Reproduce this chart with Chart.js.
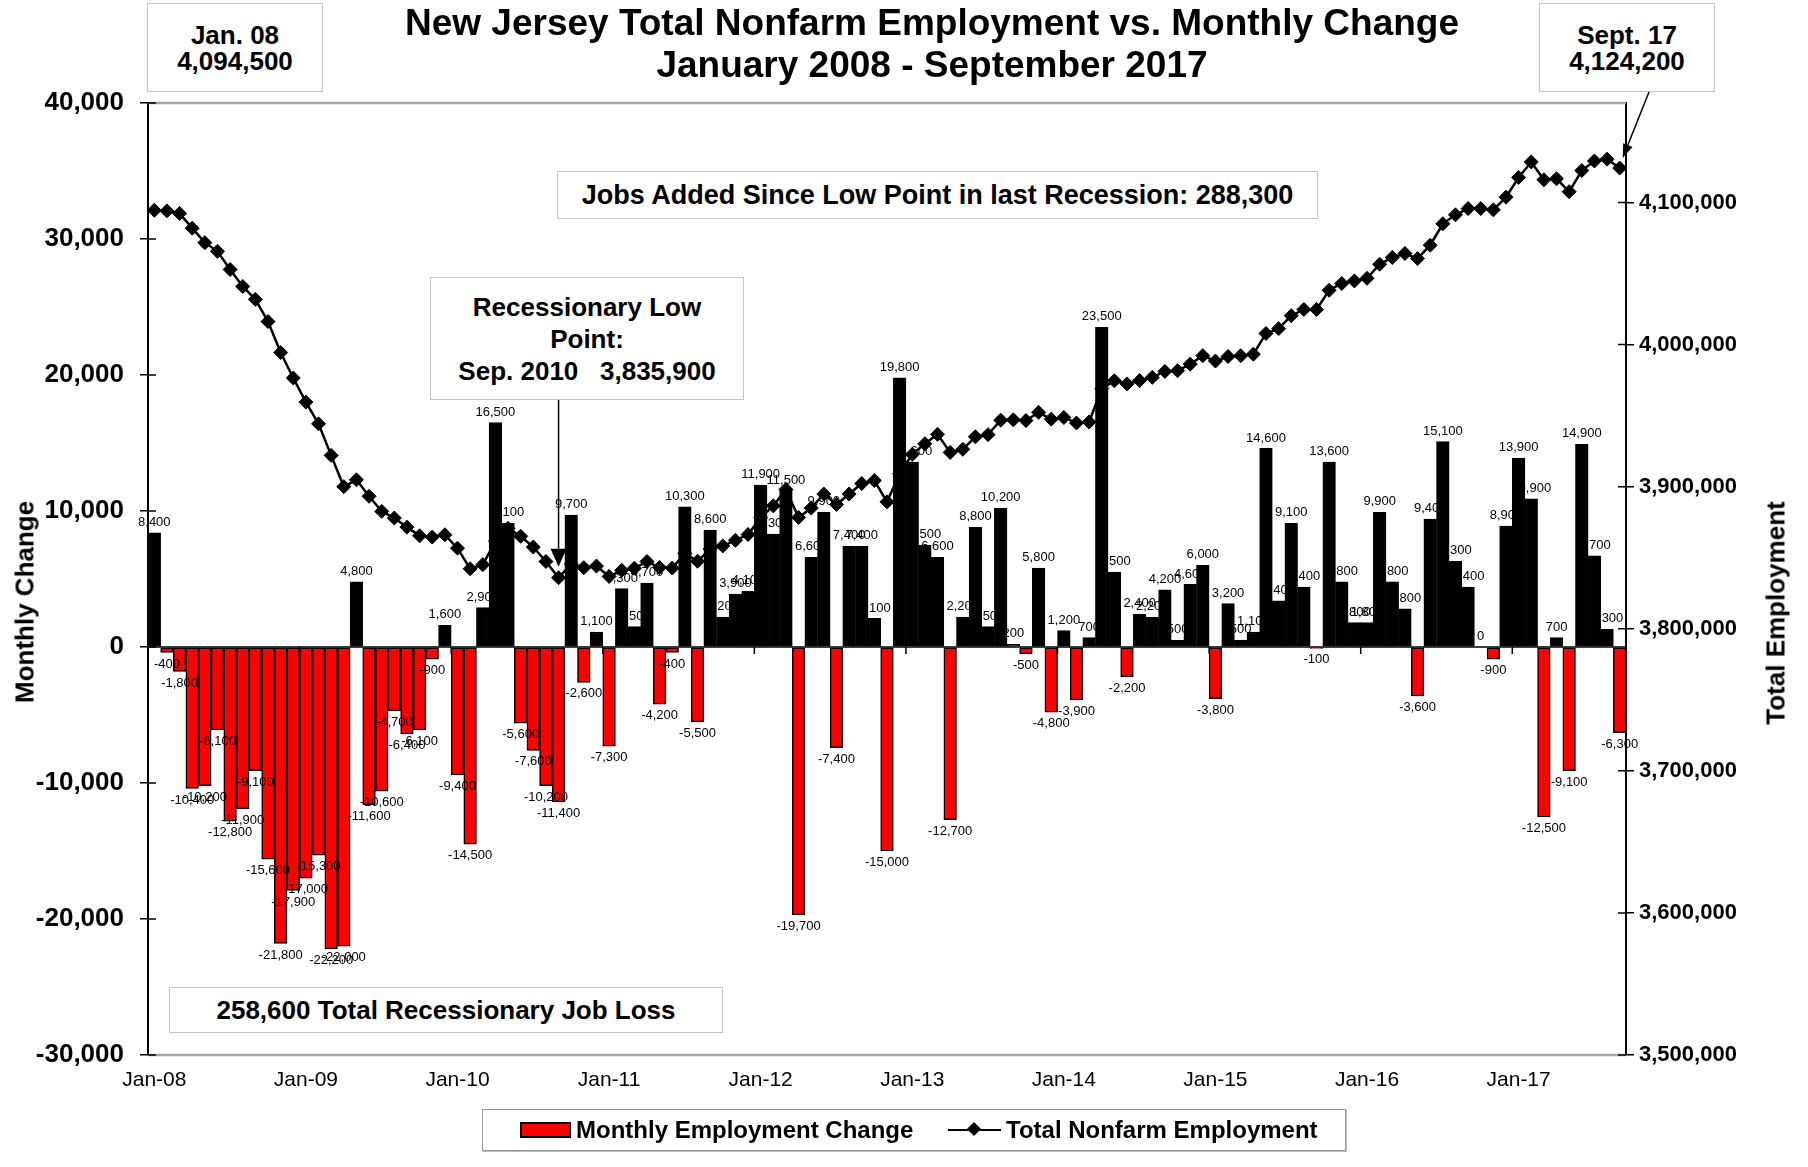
<!DOCTYPE html>
<html>
<head>
<meta charset="utf-8">
<script src="https://cdn.jsdelivr.net/npm/chart.js@4.4.0/dist/chart.umd.min.js"></script>
<style>
  body { margin: 0; background: #fff; font-family: "Liberation Sans", Arial, sans-serif; color: #000; }
  #wrap { position: relative; width: 1808px; height: 1167px; overflow: hidden; }
  canvas { position: absolute; left: 0; top: 0; }
  .t { position: absolute; font-weight: bold; text-align: center; white-space: pre; }
  .box { position: absolute; box-sizing: border-box; border: 1px solid #c4c4c4; background: #fff;
         font-weight: bold; text-align: center; white-space: pre; display: flex; flex-direction: column; justify-content: center; }
  .rot { position: absolute; font-weight: bold; font-size: 26px; white-space: nowrap; transform: translate(-50%, -50%) rotate(-90deg); }
  #legend { position: absolute; left: 482px; top: 1109px; width: 864px; height: 42px; box-sizing: border-box;
            border: 1px solid #9a9a9a; box-shadow: 1px 1px 0 #bbb; background: #fff; font-weight: bold; font-size: 24px; }
  #legend span { position: absolute; top: 7px; line-height: 26px; }
  .sw { left: 37px; top: 12px !important; width: 47px; height: 12px; background: #ff0000; border: 2px solid #000; }
  .ln { left: 465px; top: 19px !important; width: 53px; height: 0; border-top: 2.5px solid #000; }
  .dia { left: 486px; top: 14px !important; width: 10px; height: 10px; background: #000; transform: rotate(45deg); }
</style>
</head>
<body>
<div id="wrap">
  <canvas id="chart" width="1808" height="1167"></canvas>

  <div class="t" style="left:232px;width:1400px;top:3px;font-size:37px;line-height:40px;">New Jersey Total Nonfarm Employment vs. Monthly Change</div>
  <div class="t" style="left:232px;width:1400px;top:45px;font-size:37px;line-height:40px;">January 2008 - September 2017</div>

  <div class="box" style="left:147px;top:3px;width:176px;height:89px;font-size:26px;line-height:26px;">Jan. 08<br>4,094,500</div>
  <div class="box" style="left:1539px;top:3px;width:176px;height:89px;font-size:26px;line-height:26px;">Sept. 17<br>4,124,200</div>
  <div class="box" style="left:557px;top:171px;width:761px;height:48px;font-size:27px;">Jobs Added Since Low Point in last Recession: 288,300</div>
  <div class="box" style="left:430px;top:277px;width:314px;height:123px;font-size:26px;line-height:32px;">Recessionary Low<br>Point:<br>Sep. 2010   3,835,900</div>
  <div class="box" style="left:169px;top:987px;width:554px;height:46px;font-size:26px;">258,600 Total Recessionary Job Loss</div>

  <div class="rot" style="left:25px;top:602px;">Monthly Change</div>
  <div class="rot" style="left:1776px;top:613px;">Total Employment</div>

  <div id="legend">
    <span class="sw"></span><span style="left:93px;">Monthly Employment Change</span>
    <span class="ln"></span><span class="dia"></span><span style="left:523px;">Total Nonfarm Employment</span>
  </div>
</div>

<script>
// ---------------- data ----------------
const MONTH_NAMES = ["Jan", "Feb", "Mar", "Apr", "May", "Jun", "Jul", "Aug", "Sep", "Oct", "Nov", "Dec"];
const YEARS = ["08", "09", "10", "11", "12", "13", "14", "15", "16", "17"];
const N_MONTHS = 117; // Jan 2008 - Sep 2017

const CATEGORIES = [];
YEARS.forEach(yr => MONTH_NAMES.forEach(m => {
  if (CATEGORIES.length < N_MONTHS) CATEGORIES.push(m + "-" + yr);
}));

// monthly change (bars, left axis)
const MONTHLY_CHANGE = [
  8400, -400, -1800, -10400, -10200, -6100, -12800, -11900, -9100, -15600, -21800, -17900,
  -17000, -15300, -22200, -22000, 4800, -11600, -10600, -4700, -6400, -6100, -900, 1600,
  -9400, -14500, 2900, 16500, 9100, -5600, -7600, -10200, -11400, 9700, -2600, 1100,
  -7300, 4300, 1500, 4700, -4200, -400, 10300, -5500, 8600, 2200, 3900, 4100,
  11900, 8300, 11500, -19700, 6600, 9900, -7400, 7400, 7400, 2100, -15000, 19800,
  13600, 7500, 6600, -12700, 2200, 8800, 1500, 10200, 200, -500, 5800, -4800,
  1200, -3900, 700, 23500, 5500, -2200, 2400, 2200, 4200, 500, 4600, 6000,
  -3800, 3200, 500, 1100, 14600, 3400, 9100, 4400, -100, 13600, 4800, 1800,
  1800, 9900, 4800, 2800, -3600, 9400, 15100, 6300, 4400, 0, -900, 8900,
  13900, 10900, -12500, 700, -9100, 14900, 6700, 1300, -6300
];

// total nonfarm employment (line, right axis)
const TOTAL_EMPLOYMENT = [
  4094500, 4094100, 4092300, 4081900, 4071700, 4065600, 4052800, 4040900, 4031800, 4016200, 3994400, 3976500,
  3959500, 3944200, 3922000, 3900000, 3904800, 3893200, 3882600, 3877900, 3871500, 3865400, 3864500, 3866100,
  3856700, 3842200, 3845100, 3861600, 3870700, 3865100, 3857500, 3847300, 3835900, 3845600, 3843000, 3844100,
  3836800, 3841100, 3842600, 3847300, 3843100, 3842700, 3853000, 3847500, 3856100, 3858300, 3862200, 3866300,
  3878200, 3886500, 3898000, 3878300, 3884900, 3894800, 3887400, 3894800, 3902200, 3904300, 3889300, 3909100,
  3922700, 3930200, 3936800, 3924100, 3926300, 3935100, 3936600, 3946800, 3947000, 3946500, 3952300, 3947500,
  3948700, 3944800, 3945500, 3969000, 3974500, 3972300, 3974700, 3976900, 3981100, 3981600, 3986200, 3992200,
  3988400, 3991600, 3992100, 3993200, 4007800, 4011200, 4020300, 4024700, 4024600, 4038200, 4043000, 4044800,
  4046600, 4056500, 4061300, 4064100, 4060500, 4069900, 4085000, 4091300, 4095700, 4095700, 4094800, 4103700,
  4117600, 4128500, 4116000, 4116700, 4107600, 4122500, 4129200, 4130500, 4124200
];

// axis ticks
const LEFT_TICKS = [-30000, -20000, -10000, 0, 10000, 20000, 30000, 40000];
const RIGHT_TICKS = [3500000, 3600000, 3700000, 3800000, 3900000, 4000000, 4100000];
const RIGHT_MAX = 4170000;
const LOW_INDEX = 32; // Sep 2010

const FONT = '"Liberation Sans", Arial, sans-serif';
const RED = "#ff0000";

// ---------------- helpers ----------------
const fmt = v => (v < 0 ? "-" : "") + String(Math.abs(v)).replace(/\B(?=(\d{3})+(?!\d))/g, ",");

function arrow(ctx, x1, y1, x2, y2, hl, hw) {
  const ang = Math.atan2(y2 - y1, x2 - x1);
  const bx = x2 - hl * Math.cos(ang), by = y2 - hl * Math.sin(ang);
  ctx.beginPath();
  ctx.moveTo(x1, y1);
  ctx.lineTo(bx, by);
  ctx.stroke();
  ctx.beginPath();
  ctx.moveTo(x2, y2);
  ctx.lineTo(bx + hw * Math.sin(ang), by - hw * Math.cos(ang));
  ctx.lineTo(bx - hw * Math.sin(ang), by + hw * Math.cos(ang));
  ctx.closePath();
  ctx.fill();
}

// ---------------- plugins ----------------
const framePlugin = {
  id: "framePlugin",
  afterDatasetsDraw(chart) {
    const { ctx, chartArea: a, scales: { x, y, y2 } } = chart;
    ctx.save();

    // grey plot border top / bottom
    ctx.strokeStyle = "#a6a6a6";
    ctx.lineWidth = 2.5;
    ctx.beginPath();
    ctx.moveTo(a.left, a.top); ctx.lineTo(a.right, a.top);
    ctx.moveTo(a.left, a.bottom); ctx.lineTo(a.right, a.bottom);
    ctx.stroke();

    // category axis crossing at zero
    const y0 = y.getPixelForValue(0);
    const cw = (a.right - a.left) / CATEGORIES.length;
    ctx.strokeStyle = "#000";
    ctx.lineWidth = 1.5;
    ctx.beginPath();
    ctx.moveTo(a.left, y0); ctx.lineTo(a.right, y0);
    CATEGORIES.forEach((c, i) => {
      if (i % 12 !== 0) return;
      const xx = x.getPixelForValue(i) - cw / 2;
      ctx.moveTo(xx, y0); ctx.lineTo(xx, y0 + 7);
    });
    ctx.stroke();

    // inner half of the crossing tick marks
    ctx.beginPath();
    y.ticks.forEach(t => {
      const p = y.getPixelForValue(t.value);
      ctx.moveTo(a.left, p); ctx.lineTo(a.left + 8, p);
    });
    y2.ticks.forEach(t => {
      const p = y2.getPixelForValue(t.value);
      ctx.moveTo(a.right - 8, p); ctx.lineTo(a.right, p);
    });
    ctx.stroke();

    // arrows
    ctx.fillStyle = "#000";
    ctx.lineWidth = 1.5;
    const xl = x.getPixelForValue(LOW_INDEX);
    const yl = y2.getPixelForValue(TOTAL_EMPLOYMENT[LOW_INDEX]);
    arrow(ctx, xl, 400, xl, yl - 11, 18, 8);

    const last = TOTAL_EMPLOYMENT.length - 1;
    const xe = x.getPixelForValue(last);
    const ye = y2.getPixelForValue(TOTAL_EMPLOYMENT[last]);
    arrow(ctx, 1649, 92, xe + 3, ye - 10, 14, 5);

    ctx.restore();
  }
};

const barLabelPlugin = {
  id: "barLabelPlugin",
  afterDatasetsDraw(chart) {
    const ctx = chart.ctx;
    const meta = chart.getDatasetMeta(0);
    ctx.save();
    ctx.font = "13px " + FONT;
    ctx.fillStyle = "#000";
    ctx.textAlign = "center";
    meta.data.forEach((bar, i) => {
      const v = MONTHLY_CHANGE[i];
      if (v < 0) {
        ctx.textBaseline = "top";
        ctx.fillText(fmt(v), bar.x, bar.y + 5);
      } else {
        ctx.textBaseline = "bottom";
        ctx.fillText(fmt(v), bar.x, bar.y - 4);
      }
    });
    ctx.restore();
  }
};

// ---------------- chart ----------------
const ctx = document.getElementById("chart").getContext("2d");
new Chart(ctx, {
  type: "bar",
  data: {
    labels: CATEGORIES,
    datasets: [
      {
        type: "bar",
        label: "Monthly Employment Change",
        data: MONTHLY_CHANGE,
        yAxisID: "y",
        order: 1,
        backgroundColor: MONTHLY_CHANGE.map(v => (v < 0 ? RED : "#000")),
        borderColor: "#000",
        borderWidth: 1.5,
        borderSkipped: false,
        barPercentage: 1,
        categoryPercentage: 1
      },
      {
        type: "line",
        label: "Total Nonfarm Employment",
        data: TOTAL_EMPLOYMENT,
        yAxisID: "y2",
        order: 2,
        borderColor: "#000",
        borderWidth: 2.5,
        tension: 0,
        pointStyle: "rectRot",
        pointRadius: 7,
        pointBackgroundColor: "#000",
        pointBorderColor: "#000",
        pointBorderWidth: 1
      }
    ]
  },
  options: {
    responsive: false,
    animation: false,
    layout: { padding: { top: 103, bottom: 62, left: 0, right: 0 } },
    plugins: { legend: { display: false }, tooltip: { enabled: false } },
    scales: {
      x: {
        offset: true,
        grid: { display: false, drawTicks: false },
        border: { display: false },
        ticks: {
          autoSkip: false, maxRotation: 0, minRotation: 0, padding: 13,
          color: "#000", font: { size: 21, family: FONT },
          callback: (v, i) => (i % 12 === 0 ? CATEGORIES[i] : "")
        },
        afterFit: s => { s.height = 50; }
      },
      y: {
        position: "left",
        min: LEFT_TICKS[0], max: LEFT_TICKS[LEFT_TICKS.length - 1],
        afterBuildTicks: s => { s.ticks = LEFT_TICKS.map(v => ({ value: v })); },
        ticks: {
          autoSkip: false, padding: 16, color: "#000",
          font: { size: 26, weight: "bold", family: FONT },
          callback: v => fmt(v)
        },
        grid: { drawOnChartArea: false, color: "#000", tickLength: 8, lineWidth: 1.5 },
        border: { color: "#000", width: 2 },
        afterFit: s => { s.width = 148; }
      },
      y2: {
        position: "right",
        min: RIGHT_TICKS[0], max: RIGHT_MAX,
        afterBuildTicks: s => { s.ticks = RIGHT_TICKS.map(v => ({ value: v })); },
        ticks: {
          autoSkip: false, padding: 5, color: "#000",
          font: { size: 22, weight: "bold", family: FONT },
          callback: v => fmt(v)
        },
        grid: { drawOnChartArea: false, color: "#000", tickLength: 8, lineWidth: 1.5 },
        border: { color: "#000", width: 2 },
        afterFit: s => { s.width = 182; }
      }
    }
  },
  plugins: [framePlugin, barLabelPlugin]
});
</script>
</body>
</html>
